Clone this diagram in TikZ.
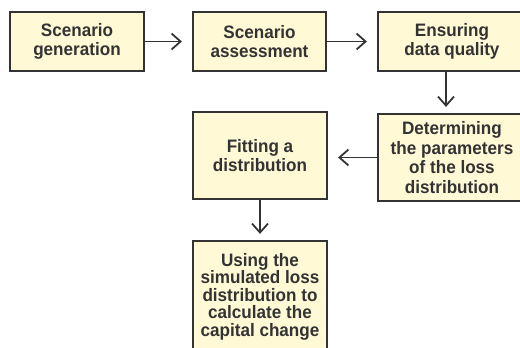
\documentclass[tikz,border=0pt]{standalone}
\usepackage{fontspec}
\setmainfont{Liberation Sans}[FakeStretch=0.95]
\usetikzlibrary{arrows.meta}
\definecolor{boxfill}{HTML}{FFF9D6}
\definecolor{ink}{HTML}{333333}
\begin{document}
\begin{tikzpicture}[x=1pt,y=-1pt,
 stepbox/.style={draw=ink, line width=2.2pt, fill=boxfill, inner sep=0pt, align=center, text=ink, font=\fontsize{18}{19.5}\selectfont\bfseries},
 flow/.style={draw=ink, line width=1.8pt, -{Straight Barb[length=9pt,width=16pt,line width=1.8pt]}}]
\useasboundingbox (0,0) rectangle (520,348);
\clip (0,0) rectangle (520,348);
\node[stepbox, minimum width=134pt, minimum height=59pt] (a) at (77,41.5) {Scenario\\generation};
\node[stepbox, minimum width=133pt, minimum height=59pt] (b) at (259.5,41.5) {Scenario\\assessment};
\node[stepbox, minimum width=148pt, minimum height=59pt] (c) at (452,41.5) {Ensuring\\data quality};
\node[stepbox, minimum width=148pt, minimum height=87pt] (e) at (452,157.5) {Determining\\the parameters\\of the loss\\distribution};
\node[stepbox, minimum width=134pt, minimum height=87pt] (d) at (260,155.5) {Fitting a\\distribution};
\node[stepbox, minimum width=134pt, minimum height=111pt, font=\fontsize{18}{17.5}\selectfont\bfseries] (f) at (260,296.5) {Using the\\simulated loss\\distribution to\\calculate the\\capital change};
\draw[flow, shorten >=10pt] (a) -- (b);
\draw[flow, shorten >=10pt] (b) -- (c);
\draw[flow, shorten >=6pt] (c.south -| 446,0) -- (e.north -| 446,0);
\draw[flow, shorten >=10pt] (e.west) -- (e.west -| d.east);
\draw[flow, shorten >=6pt] (d) -- (f);
\end{tikzpicture}
\end{document}
